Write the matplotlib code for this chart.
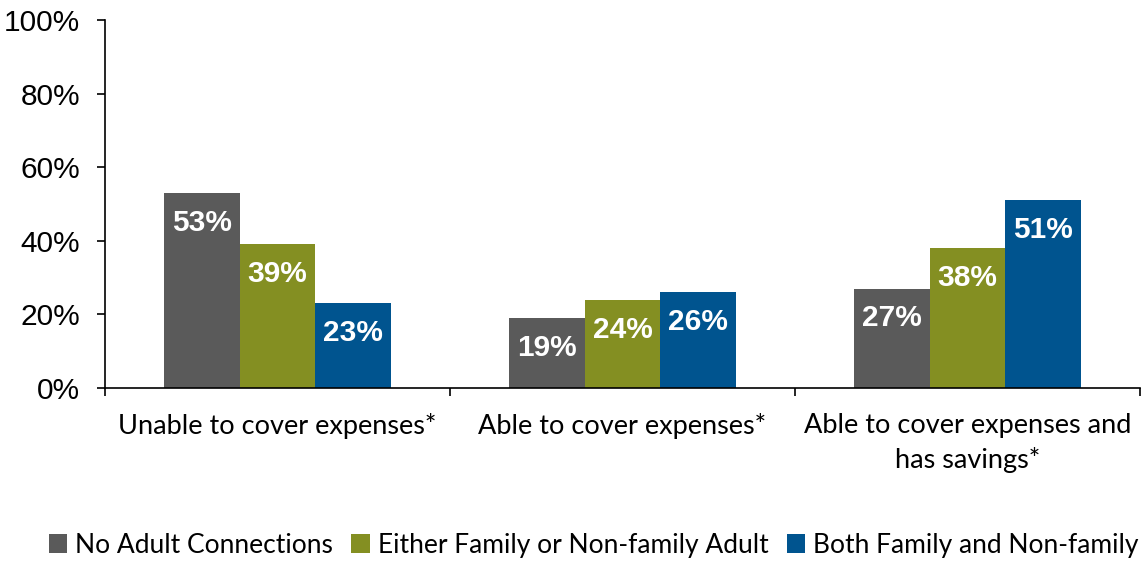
import numpy as np
import matplotlib; matplotlib.use("Agg")
import matplotlib.pyplot as plt
from matplotlib.ticker import FixedLocator

categories = ["Unable to cover expenses*", "Able to cover expenses*",
              "Able to cover expenses and\nhas savings*"]
series = ["No Adult Connections", "Either Family or Non-family Adult",
          "Both Family and Non-family"]
no_adult = [53, 19, 27]
either = [39, 24, 38]
both = [23, 26, 51]
yticks = [0, 20, 40, 60, 80, 100]

colors = ["#5a5a5a", "#848f22", "#00548f"]
label_font = "Lato"

fig = plt.figure(figsize=(11.46, 5.61), dpi=100)
ax = fig.add_axes([0.0916, 0.3084, 0.9032, 0.6559])

x = np.arange(len(categories))
w = 0.22
for i, (vals, c, name) in enumerate(zip([no_adult, either, both], colors, series)):
    bars = ax.bar(x + (i - 1) * w, vals, w, color=c, label=name)
    for b, v in zip(bars, vals):
        ax.annotate(f"{v}%", (b.get_x() + b.get_width() / 2, v), xytext=(0, -21.5),
                    textcoords="offset points", ha="center", va="center",
                    color="white", fontsize=21.5, fontweight="bold",
                    family="Liberation Sans")

ax.set_xlim(-0.5, 2.5)
ax.set_ylim(0, 100)
ax.set_yticks(yticks)
ax.set_yticklabels([f"{t}%" for t in yticks], family="Liberation Sans", fontsize=21.5)
ax.set_xticks(x)
ax.set_xticklabels(categories, family=label_font, fontsize=19.5, linespacing=1.45)
ax.xaxis.set_minor_locator(FixedLocator([-0.5, 0.5, 1.5, 2.5]))
ax.tick_params(axis="x", which="major", length=0, pad=18)
ax.tick_params(axis="x", which="minor", length=6, width=1.2)
ax.tick_params(axis="y", length=6, width=1.2, pad=12)
for s in ["top", "right"]:
    ax.spines[s].set_visible(False)
for s in ["left", "bottom"]:
    ax.spines[s].set_linewidth(1.2)

fig.legend(loc="center", bbox_to_anchor=(0.518, 0.0285), ncol=3, frameon=False,
           prop={"family": label_font, "size": 19}, handlelength=0.7,
           handleheight=0.7, handletextpad=0.3, columnspacing=0.7)

fig.savefig("out.png", dpi=100)
